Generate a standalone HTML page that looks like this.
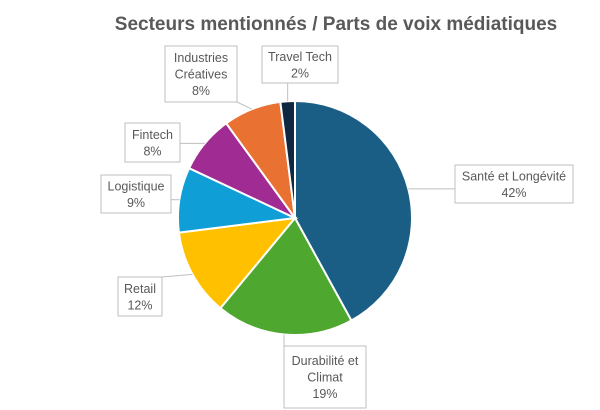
<!DOCTYPE html>
<html><head><meta charset="utf-8"><style>
body{margin:0;background:#fff}
svg{display:block;font-family:"Liberation Sans",sans-serif}
</style></head><body>
<svg width="600" height="410" viewBox="0 0 600 410">
<text x="336" y="30" text-anchor="middle" font-size="19" font-weight="bold" fill="#595959">Secteurs  mentionnés / Parts de voix médiatiques</text>
<g id="slices"></g>
<g id="labels"></g>
</svg>
<script>
const categories=["Santé et Longévité","Durabilité et Climat","Retail","Logistique","Fintech","Industries Créatives","Travel Tech"];
const values=[42,19,12,9,8,8,2];
const colors=["#1a5e85","#4ea72e","#ffc000","#0f9ed5","#a02b93","#e97132","#0e2841"];
const labelLines=[["Santé et Longévité","42%"],["Durabilité et","Climat","19%"],["Retail","12%"],["Logistique","9%"],["Fintech","8%"],["Industries","Créatives","8%"],["Travel Tech","2%"]];
const boxes=[[455,165,118,38],[284,346,82,62],[118,277,44,39],[101,175,70,38],[125,123,55,39],[165,46,72,56],[262,46,76,37]];
const cx=295,cy=218,r=117;
const NS="http://www.w3.org/2000/svg";
const total=values.reduce((a,b)=>a+b,0);
const pt=(a,rr)=>[cx+rr*Math.sin(a),cy-rr*Math.cos(a)];
let acc=0;
const sg=document.getElementById('slices'),lg=document.getElementById('labels');
values.forEach((v,i)=>{
  const a0=acc/total*2*Math.PI; acc+=v; const a1=acc/total*2*Math.PI;
  const p0=pt(a0,r),p1=pt(a1,r);
  const p=document.createElementNS(NS,'path');
  p.setAttribute('d',`M${cx},${cy}L${p0[0]},${p0[1]}A${r},${r} 0 ${a1-a0>Math.PI?1:0} 1 ${p1[0]},${p1[1]}Z`);
  p.setAttribute('fill',colors[i]);p.setAttribute('stroke','#fff');p.setAttribute('stroke-width','2');
  
  
  sg.appendChild(p);
  const am=(a0+a1)/2, pm=pt(am,r);
  const b=boxes[i];
  const bx=Math.max(b[0],Math.min(pm[0],b[0]+b[2])), by=Math.max(b[1],Math.min(pm[1],b[1]+b[3]));
  const ln=document.createElementNS(NS,'line');
  ln.setAttribute('x1',pm[0]);ln.setAttribute('y1',pm[1]);ln.setAttribute('x2',bx);ln.setAttribute('y2',by);
  ln.setAttribute('stroke','#bfbfbf');ln.setAttribute('stroke-width','1');
  
  
  lg.appendChild(ln);
  const rc=document.createElementNS(NS,'rect');
  rc.setAttribute('x',b[0]);rc.setAttribute('y',b[1]);rc.setAttribute('width',b[2]);rc.setAttribute('height',b[3]);
  rc.setAttribute('fill','#fff');rc.setAttribute('stroke','#bfbfbf');
  
  
  lg.appendChild(rc);
  const lines=labelLines[i];
  const lh=16.5, startY=b[1]+b[3]/2-(lines.length-1)*lh/2+4.5;
  lines.forEach((t,k)=>{
    const tx=document.createElementNS(NS,'text');
    tx.setAttribute('x',b[0]+b[2]/2);tx.setAttribute('y',startY+k*lh);
    tx.setAttribute('text-anchor','middle');tx.setAttribute('font-size','12.5');tx.setAttribute('fill','#595959');
    tx.textContent=(k===lines.length-1)?Math.round(v/total*100)+'%':t;
    
    
    lg.appendChild(tx);
  });
});
</script>
</body></html>
